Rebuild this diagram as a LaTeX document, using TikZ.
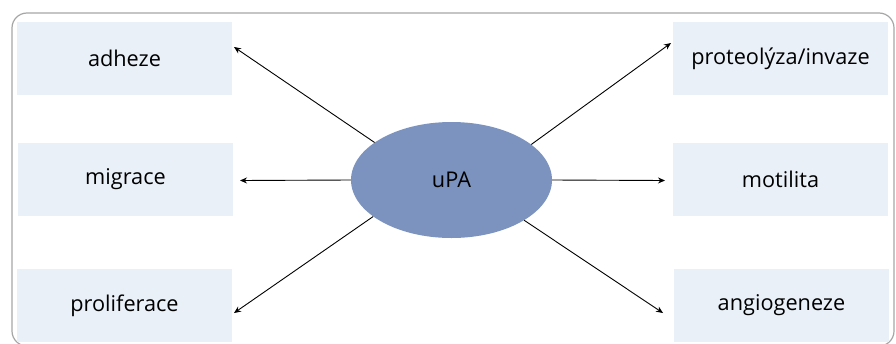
\documentclass[tikz,border=0pt]{standalone}
\usepackage{fontspec}
\setmainfont{Open Sans}
\usetikzlibrary{arrows.meta,shapes.geometric}
\definecolor{boxfill}{HTML}{E9F0F8}
\definecolor{ellfill}{HTML}{7B93BE}
\definecolor{framecol}{HTML}{A6A6A6}
\tikzset{
  labelbox/.style={fill=boxfill, draw=none, minimum width=215pt, minimum height=73pt, inner sep=0pt, font=\fontsize{21.7}{26}\selectfont},
  hub/.style={ellipse, fill=ellfill, draw=none, minimum width=201pt, minimum height=116pt, inner sep=0pt, font=\fontsize{21.7}{26}\selectfont},
  conn/.style={line width=0.9pt, -{Stealth[length=7pt,width=6pt]}}
}
\begin{document}
\begin{tikzpicture}[x=1pt,y=-1pt]
\useasboundingbox (0,0) rectangle (896,343);
\draw[framecol, line width=1.2pt, rounded corners=15pt] (12,13) rectangle (894,346);
\node[labelbox] (adh) at (124.5,58.5) {adheze};
\node[labelbox] (mig) at (125.5,179.5) {migrace};
\node[labelbox] (pro) at (124.5,305.5) {proliferace};
\node[labelbox] (prot) at (780.5,58.5) {proteolýza/invaze};
\node[labelbox] (mot) at (780.5,179.5) {motilita};
\node[labelbox] (ang) at (781.5,305.5) {angiogeneze};
\node[hub] (u) at (451.5,180) {uPA};
\coordinate (tadh) at (234,47);
\coordinate (tmig) at (240,180.5);
\coordinate (tpro) at (234,313);
\coordinate (tprot) at (671,43);
\coordinate (tmot) at (665,180.5);
\coordinate (tang) at (663,313);
\draw[conn] (u.154) -- (tadh);
\draw[conn] (u.west) -- (tmig);
\draw[conn] (u.205) -- (tpro);
\draw[conn] (u.24) -- (tprot);
\draw[conn] (u.east) -- (tmot);
\draw[conn] (u.331) -- (tang);
\end{tikzpicture}
\end{document}
